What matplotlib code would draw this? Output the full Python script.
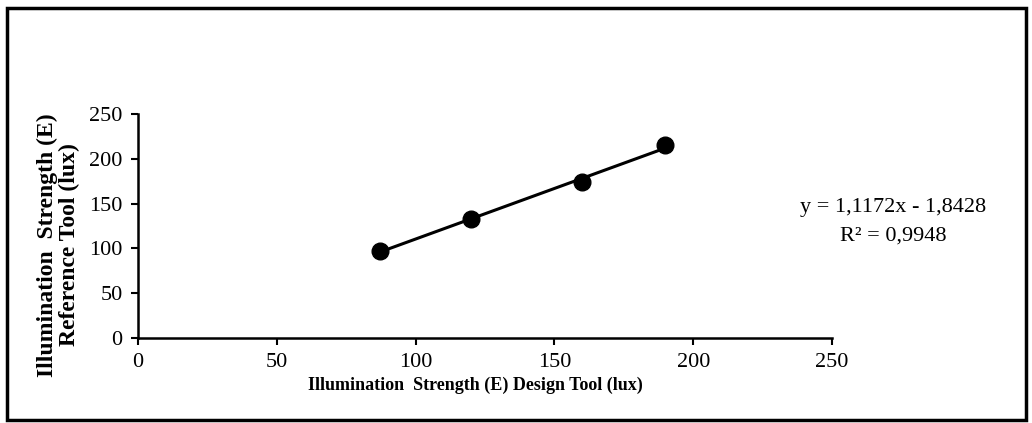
import numpy as np
import matplotlib.pyplot as plt
from matplotlib.patches import Rectangle

# DATA
design_lux = [87, 120, 160, 190]
reference_lux = [97, 133, 174, 215]
x_ticks = [0, 50, 100, 150, 200, 250]
y_ticks = [0, 50, 100, 150, 200, 250]

plt.rcParams['font.family'] = ['Liberation Serif', 'DejaVu Serif']

fig = plt.figure(figsize=(10.32, 4.23), dpi=100)
ax = fig.add_axes([138 / 1032, 1 - 338 / 423, (832 - 138) / 1032, (338 - 114) / 423])

# LINEAR TRENDLINE OVER THE DATA RANGE
slope, intercept = np.polyfit(design_lux, reference_lux, 1)
xs = np.array([min(design_lux), max(design_lux)])
ax.plot(xs, slope * xs + intercept, color="black", lw=2.2, zorder=2)
ax.plot(design_lux, reference_lux, "o", color="black", ms=12, zorder=3)

ax.set_xlim(0, 250)
ax.set_ylim(0, 250)
ax.set_xticks(x_ticks)
ax.set_yticks(y_ticks)
ax.tick_params(labelsize=16, length=5, width=1.5, color="black", pad=6)
for side in ["top", "right"]:
    ax.spines[side].set_visible(False)
for side in ["left", "bottom"]:
    ax.spines[side].set_linewidth(1.8)

ax.set_xlabel("Illumination  Strength (E) Design Tool (lux)", fontsize=13,
              fontweight="bold")
ax.xaxis.set_label_coords((475 - 138) / 694, -(377 - 338) / 224)
ax.set_ylabel("Illumination  Strength (E)\nReference Tool (lux)", fontsize=17,
              fontweight="bold", linespacing=1.05)
ax.yaxis.set_label_coords(-(138 - 80) / 694, (338 - 245) / 224)

fig.text(893 / 1032, 1 - 222 / 423, "y = 1,1172x - 1,8428\nR\u00b2 = 0,9948",
         ha="center", va="center", fontsize=16, linespacing=1.7)

# FRAME AROUND THE FIGURE
fig.patches.append(Rectangle((7 / 1032, 3 / 423), 1019 / 1032, 412 / 423,
                             transform=fig.transFigure, fill=False,
                             edgecolor="black", lw=2.5))

plt.savefig("out.png", dpi=100)
